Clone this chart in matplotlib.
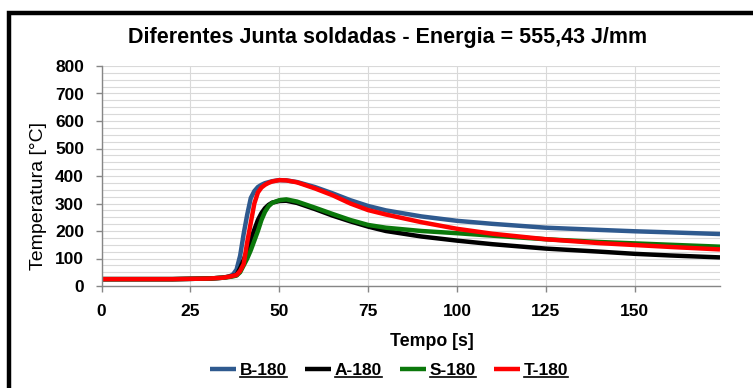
import matplotlib
matplotlib.use("Agg")
import matplotlib.pyplot as plt
from matplotlib.patches import Rectangle
from matplotlib.lines import Line2D
from matplotlib.ticker import MultipleLocator

plt.rcParams['font.family'] = ['Liberation Sans', 'DejaVu Sans']
plt.rcParams['font.weight'] = 'bold'

# Thermal cycles (time in s, temperature in °C)
t_B = [0, 10, 20, 30, 34, 36, 37, 38, 39, 40, 41, 42, 43, 44, 45, 46, 48, 50, 52, 55,
       60, 65, 70, 75, 80, 90, 100, 110, 125, 140, 150, 160, 174]
temp_B = [25, 25, 25, 27, 30, 35, 42, 60, 110, 190, 260, 320, 345, 360, 368, 374, 381, 385, 384, 378,
          360, 337, 312, 291, 275, 253, 237, 226, 212, 204, 199, 195, 189]

t_A = [0, 10, 20, 30, 34, 36, 37, 38, 39, 40, 41, 42, 43, 44, 45, 46, 47, 48, 50, 52, 55,
       60, 65, 70, 75, 80, 90, 100, 110, 125, 140, 150, 160, 174]
temp_A = [25, 25, 25, 27, 30, 34, 37, 40, 65, 95, 130, 170, 205, 240, 265, 283, 295, 303, 309, 310, 302,
          280, 256, 235, 216, 200, 180, 165, 152, 136, 125, 117, 111, 104]

t_S = [0, 10, 20, 30, 34, 36, 37, 38, 39, 40, 41, 42, 43, 44, 45, 46, 47, 48, 50, 52, 55,
       60, 65, 70, 75, 80, 90, 100, 110, 125, 140, 150, 160, 174]
temp_S = [25, 25, 25, 27, 30, 33, 35, 38, 50, 75, 100, 130, 165, 200, 240, 270, 290, 302, 312, 315, 307,
          285, 262, 240, 222, 212, 200, 192, 183, 170, 160, 155, 150, 143]

t_T = [0, 10, 20, 30, 34, 36, 37, 38, 39, 40, 41, 42, 43, 44, 45, 46, 47, 48, 50, 52, 55,
       60, 65, 70, 75, 80, 90, 100, 110, 125, 140, 150, 160, 174]
temp_T = [25, 25, 25, 27, 30, 34, 37, 40, 55, 80, 160, 230, 300, 340, 358, 368, 375, 380, 385, 384, 377,
          355, 330, 300, 276, 260, 232, 208, 190, 170, 156, 149, 142, 133]

series = [
    ("B-180", t_B, temp_B, "#2F5A8F"),
    ("A-180", t_A, temp_A, "#000000"),
    ("S-180", t_S, temp_S, "#0B780B"),
    ("T-180", t_T, temp_T, "#FF0000"),
]

W, H = 753, 388
fig = plt.figure(figsize=(W / 100, H / 100), dpi=100)

# Chart border
fig.patches.append(Rectangle((9 / W, -0.1), 1.2, 1 - 13 / H + 0.1, transform=fig.transFigure,
                             fill=False, edgecolor="black", linewidth=3.2, zorder=0))

ax = fig.add_axes([101.5 / W, 1 - 286 / H, (720 - 101.5) / W, (286 - 66) / H])
for name, t, v, c in series:
    ax.plot(t, v, color=c, linewidth=3.2, label=name, solid_capstyle="butt")

ax.set_xlim(0, 174)
ax.set_ylim(0, 800)
ax.xaxis.set_major_locator(MultipleLocator(25))
ax.yaxis.set_major_locator(MultipleLocator(100))
ax.yaxis.set_minor_locator(MultipleLocator(25))
ax.grid(True, which="major", color="#D9D9D9", linewidth=0.8)
ax.grid(True, which="minor", axis="y", color="#D9D9D9", linewidth=0.8)
ax.set_axisbelow(True)
for s in ("top", "right"):
    ax.spines[s].set_visible(False)
for s in ("left", "bottom"):
    ax.spines[s].set_color("#868686")
    ax.spines[s].set_linewidth(1.0)
ax.tick_params(axis="both", which="major", color="#868686", length=4, width=1.0,
               labelsize=12.5, direction="out")
ax.tick_params(axis="y", which="minor", length=0)
ax.tick_params(axis="y", pad=8.6)
ax.tick_params(axis="x", pad=9)
for lab in ax.get_xticklabels() + ax.get_yticklabels():
    lab.set_fontweight("bold")

fig.text(388 / W, 1 - 37 / H, "Diferentes Junta soldadas - Energia = 555,43 J/mm",
         ha="center", va="center", fontsize=15.5, fontweight="bold")
fig.text(432 / W, 1 - 341 / H, "Tempo [s]", ha="center", va="center",
         fontsize=12.8, fontweight="bold")
fig.text(38.5 / W, 1 - 196 / H, "Temperatura [°C]", ha="center", va="center",
         rotation=90, fontsize=14, fontweight="normal")

leg = fig.legend(loc="center", bbox_to_anchor=(389 / W, 1 - 370 / H), ncol=4, frameon=False,
                 prop={"size": 12.5, "weight": "bold"}, handlelength=1.5, handletextpad=0.25,
                 columnspacing=1.0, borderaxespad=0)
for ln in leg.get_lines():
    ln.set_linewidth(3.2)

# Underline the legend entries
fig.canvas.draw()
inv = fig.transFigure.inverted()
for txt in leg.get_texts():
    bb = txt.get_window_extent()
    (x0, y0), (x1, _) = inv.transform([[bb.x0, bb.y0], [bb.x1, bb.y1]])
    fig.add_artist(Line2D([x0, x1], [y0 + 1 / H, y0 + 1 / H], transform=fig.transFigure,
                          color="black", linewidth=1.2))

fig.savefig("out.png", dpi=100)
